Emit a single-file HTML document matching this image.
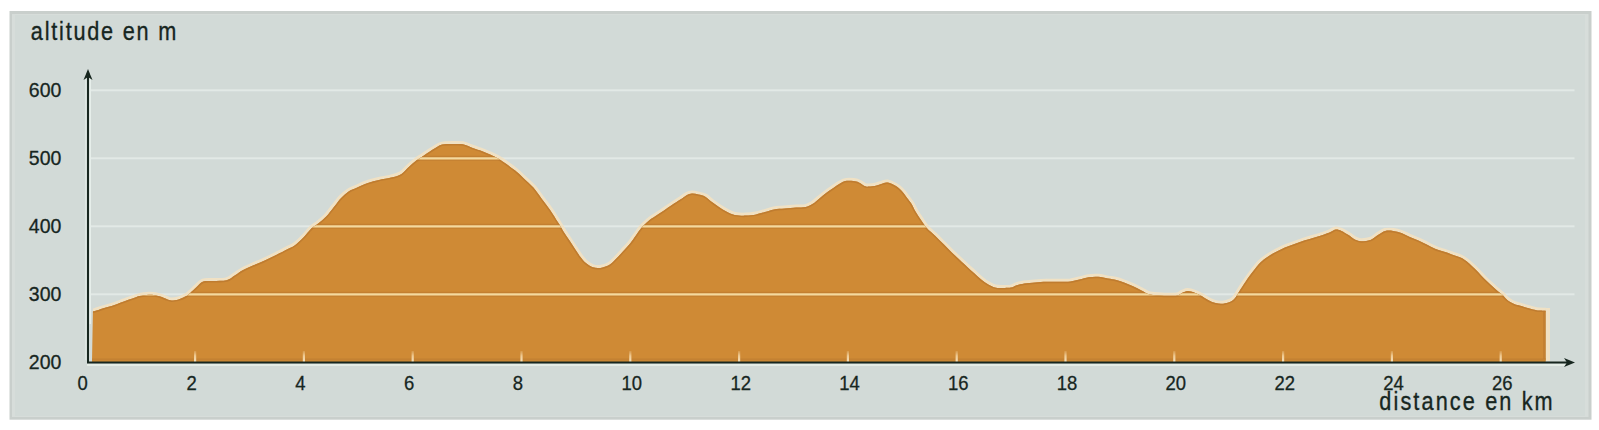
<!DOCTYPE html>
<html><head><meta charset="utf-8"><style>
html,body{margin:0;padding:0;background:#fff;width:1599px;height:430px;overflow:hidden}
svg{display:block}
text{font-family:"Liberation Sans",sans-serif;fill:#17261F}
</style></head><body>
<svg width="1599" height="430" viewBox="0 0 1599 430">
<defs><linearGradient id="tg" x1="0" y1="0" x2="0" y2="1"><stop offset="0" stop-color="#F3D3A0" stop-opacity="0.2"/><stop offset="0.45" stop-color="#F3D3A0" stop-opacity="0.9"/><stop offset="1" stop-color="#F6E2BC"/></linearGradient><clipPath id="ca"><path d="M92.9,311.4 C93.2,311.4 93.1,311.6 94.9,311.1 C96.6,310.6 100.0,309.4 103.3,308.3 C106.5,307.3 110.7,306.2 114.5,305.0 C118.2,303.7 122.3,302.0 125.8,300.8 C129.2,299.5 132.8,298.3 135.1,297.5 C137.4,296.7 138.1,296.5 139.6,296.1 C141.1,295.8 142.5,295.5 144.1,295.2 C145.7,295.0 147.2,294.8 149.0,294.8 C150.8,294.8 153.0,294.9 155.0,295.2 C157.0,295.5 159.0,296.1 161.0,296.8 C163.0,297.5 165.2,298.6 167.0,299.2 C168.8,299.8 169.6,300.4 171.5,300.4 C173.4,300.4 176.3,300.1 178.6,299.4 C180.9,298.8 183.4,297.7 185.3,296.6 C187.2,295.5 188.5,294.5 190.3,292.9 C192.1,291.4 194.2,289.2 196.3,287.3 C198.4,285.4 200.4,282.7 203.2,281.6 C205.9,280.6 209.1,281.2 213.0,281.0 C216.9,280.8 223.0,281.2 226.6,280.3 C230.2,279.4 232.0,277.3 234.7,275.6 C237.4,273.9 239.9,271.8 243.1,270.1 C246.3,268.4 250.3,266.7 254.0,265.1 C257.6,263.5 261.5,262.0 265.2,260.3 C269.0,258.5 272.9,256.5 276.6,254.7 C280.3,252.9 284.3,250.8 287.3,249.2 C290.3,247.6 291.8,247.4 294.6,245.4 C297.4,243.4 301.1,239.8 303.9,237.0 C306.7,234.2 308.8,230.9 311.3,228.6 C313.8,226.3 316.3,225.0 318.8,223.0 C321.3,221.0 323.7,219.1 326.2,216.5 C328.7,213.9 331.2,210.3 333.7,207.2 C336.2,204.1 338.6,200.5 341.1,197.9 C343.6,195.3 346.0,193.1 348.6,191.4 C351.2,189.7 353.5,189.1 356.7,187.7 C360.0,186.2 364.2,184.2 367.9,182.9 C371.6,181.6 375.2,180.8 379.0,179.9 C382.9,179.0 387.3,178.6 391.1,177.6 C394.8,176.6 398.5,175.8 401.5,173.9 C404.5,172.0 406.8,168.6 409.3,166.4 C411.8,164.2 414.0,162.3 416.3,160.6 C418.6,158.8 420.9,157.5 423.2,155.9 C425.5,154.3 427.9,152.8 430.2,151.3 C432.5,149.8 434.9,148.2 436.9,147.1 C438.9,146.0 439.6,145.1 442.2,144.6 C444.7,144.1 448.9,144.1 452.3,144.1 C455.7,144.1 459.3,143.6 462.8,144.3 C466.3,145.0 470.2,147.1 473.4,148.2 C476.5,149.3 478.9,149.9 481.7,151.0 C484.5,152.1 487.3,153.2 490.1,154.5 C492.9,155.8 495.7,157.1 498.5,158.7 C501.3,160.3 504.0,162.3 506.8,164.3 C509.6,166.3 512.4,168.3 515.2,170.6 C518.0,172.9 520.6,175.4 523.6,178.2 C526.6,181.0 530.4,184.2 533.4,187.6 C536.4,191.0 538.9,195.0 541.7,198.7 C544.5,202.4 547.3,205.9 550.1,209.9 C552.9,213.9 556.0,219.2 558.3,222.8 C560.5,226.4 561.8,228.8 563.6,231.7 C565.4,234.6 567.4,237.3 569.2,240.1 C571.1,242.9 572.9,245.7 574.7,248.5 C576.6,251.3 578.4,254.4 580.3,256.8 C582.2,259.2 583.8,261.4 585.9,263.1 C588.0,264.9 590.5,266.5 592.9,267.3 C595.3,268.1 597.7,268.2 600.4,267.9 C603.1,267.5 606.5,266.6 609.1,265.1 C611.7,263.6 613.8,261.1 616.1,258.8 C618.4,256.5 620.7,253.8 623.1,251.2 C625.5,248.6 628.2,245.9 630.3,243.3 C632.4,240.7 633.9,238.3 635.7,235.8 C637.5,233.3 639.2,230.5 641.3,228.1 C643.4,225.7 645.9,223.2 648.2,221.2 C650.5,219.2 652.6,218.0 655.2,216.3 C657.8,214.5 660.8,212.6 663.6,210.7 C666.4,208.8 669.1,206.9 671.9,205.1 C674.7,203.2 677.8,201.2 680.3,199.6 C682.8,198.0 684.7,196.2 686.6,195.2 C688.6,194.2 690.0,193.7 692.0,193.6 C694.0,193.5 696.2,194.1 698.4,194.6 C700.6,195.1 703.0,195.4 705.3,196.7 C707.6,198.0 710.0,200.6 712.3,202.3 C714.6,204.1 717.0,205.7 719.3,207.2 C721.6,208.7 723.8,210.1 726.3,211.4 C728.8,212.7 731.4,214.2 734.6,214.9 C737.9,215.6 742.2,215.7 745.8,215.6 C749.4,215.5 753.1,215.0 756.2,214.4 C759.4,213.8 761.9,212.9 764.9,212.1 C767.8,211.2 770.7,210.0 774.0,209.4 C777.4,208.8 781.1,208.8 784.8,208.5 C788.5,208.2 792.7,207.7 796.2,207.5 C799.7,207.3 802.9,207.7 805.6,207.1 C808.3,206.5 810.1,205.4 812.4,204.0 C814.7,202.6 817.1,200.3 819.4,198.4 C821.7,196.5 824.1,194.5 826.4,192.8 C828.7,191.0 831.0,189.4 833.3,187.9 C835.6,186.4 838.0,184.8 840.0,183.6 C842.0,182.5 843.0,181.5 845.2,181.1 C847.4,180.6 851.0,180.8 853.3,181.0 C855.6,181.2 857.0,181.6 858.9,182.4 C860.8,183.2 862.9,185.2 864.5,185.9 C866.1,186.6 866.7,186.7 868.7,186.6 C870.7,186.5 874.3,186.0 876.6,185.4 C878.9,184.9 880.8,183.8 882.7,183.4 C884.5,182.9 885.9,182.4 887.6,182.6 C889.3,182.8 891.2,183.7 893.1,184.6 C895.0,185.5 897.1,186.8 898.7,188.1 C900.3,189.4 901.5,190.7 902.9,192.3 C904.3,193.9 905.7,196.0 907.1,197.9 C908.5,199.8 909.9,201.2 911.3,203.5 C912.7,205.8 913.9,208.8 915.5,211.5 C917.1,214.2 919.1,217.2 921.0,220.0 C922.9,222.8 924.4,225.4 926.7,228.0 C929.1,230.6 932.3,233.0 935.1,235.7 C937.9,238.4 940.7,241.3 943.5,244.1 C946.3,246.9 949.0,249.7 951.8,252.4 C954.6,255.1 957.6,257.9 960.1,260.3 C962.6,262.7 964.7,264.6 967.0,266.7 C969.3,268.8 971.7,270.9 974.0,273.0 C976.3,275.1 978.6,277.4 980.9,279.3 C983.2,281.2 985.6,282.9 987.9,284.2 C990.2,285.5 992.6,286.8 994.9,287.4 C997.2,288.0 999.1,287.9 1001.8,287.9 C1004.5,287.9 1008.4,288.0 1010.9,287.6 C1013.4,287.1 1014.6,285.8 1016.8,285.2 C1019.1,284.5 1021.3,284.0 1024.4,283.5 C1027.4,283.1 1031.6,282.7 1035.3,282.4 C1039.0,282.1 1042.4,281.9 1046.5,281.8 C1050.6,281.7 1056.0,281.9 1060.0,281.8 C1064.0,281.7 1067.3,281.8 1070.5,281.5 C1073.7,281.1 1076.4,280.2 1079.5,279.5 C1082.5,278.8 1085.5,277.7 1088.7,277.2 C1091.8,276.8 1095.0,276.6 1098.2,276.8 C1101.4,277.0 1105.0,278.1 1108.0,278.6 C1111.0,279.1 1113.6,279.3 1116.4,280.0 C1119.2,280.7 1121.9,281.8 1124.7,282.8 C1127.5,283.9 1130.3,285.0 1133.1,286.3 C1135.9,287.6 1138.7,289.0 1141.5,290.4 C1144.3,291.8 1146.1,293.6 1149.8,294.5 C1153.5,295.4 1159.4,295.5 1163.9,295.7 C1168.4,295.9 1174.0,296.0 1177.1,295.5 C1180.1,295.1 1180.6,293.6 1182.4,292.8 C1184.2,292.1 1185.7,291.0 1187.7,291.0 C1189.7,291.0 1192.3,291.8 1194.6,292.7 C1196.9,293.6 1199.3,294.8 1201.6,296.1 C1203.9,297.4 1206.3,299.1 1208.6,300.3 C1210.9,301.5 1213.2,302.5 1215.6,303.1 C1218.0,303.7 1220.4,304.0 1223.1,303.7 C1225.8,303.3 1229.6,302.1 1231.8,300.9 C1234.0,299.7 1234.6,298.6 1236.0,296.7 C1237.4,294.9 1238.6,292.4 1240.2,289.8 C1241.8,287.2 1243.5,284.6 1245.7,281.4 C1247.9,278.2 1251.0,274.0 1253.5,270.8 C1256.0,267.6 1258.1,264.7 1260.4,262.4 C1262.7,260.1 1264.8,258.6 1267.4,256.9 C1270.0,255.2 1272.9,253.5 1275.8,252.0 C1278.7,250.5 1281.8,249.0 1284.9,247.6 C1288.0,246.3 1291.3,245.3 1294.5,244.1 C1297.7,242.9 1300.9,241.6 1304.1,240.5 C1307.3,239.5 1310.4,238.7 1313.7,237.7 C1316.9,236.7 1320.6,235.7 1323.4,234.8 C1326.2,233.8 1328.4,232.9 1330.5,232.0 C1332.5,231.1 1334.1,229.7 1335.9,229.5 C1337.7,229.3 1339.4,230.0 1341.5,230.9 C1343.6,231.8 1346.3,233.7 1348.5,235.1 C1350.7,236.5 1352.4,238.2 1354.4,239.2 C1356.5,240.2 1358.1,241.1 1360.8,241.2 C1363.5,241.3 1367.5,241.0 1370.5,239.9 C1373.5,238.8 1376.2,236.1 1378.7,234.6 C1381.2,233.1 1382.8,231.6 1385.2,231.0 C1387.6,230.4 1390.4,230.6 1393.1,230.9 C1395.8,231.2 1398.7,232.0 1401.5,233.0 C1404.3,234.0 1407.0,235.8 1409.8,237.0 C1412.6,238.2 1415.6,239.2 1418.4,240.5 C1421.2,241.8 1423.9,243.2 1426.7,244.6 C1429.5,246.0 1432.3,247.6 1435.1,248.8 C1437.9,250.0 1440.7,250.7 1443.5,251.6 C1446.3,252.5 1449.0,253.4 1451.8,254.4 C1454.6,255.4 1458.0,256.4 1460.5,257.5 C1463.0,258.6 1464.6,259.8 1466.6,261.3 C1468.6,262.8 1470.5,264.7 1472.4,266.5 C1474.4,268.3 1476.3,270.3 1478.3,272.3 C1480.2,274.3 1482.2,276.6 1484.1,278.5 C1486.0,280.4 1487.9,282.2 1489.9,284.0 C1491.9,285.8 1493.9,287.8 1495.9,289.5 C1497.9,291.2 1499.8,292.6 1501.7,294.3 C1503.6,296.0 1505.2,298.3 1507.3,299.9 C1509.4,301.5 1512.0,303.1 1514.3,304.1 C1516.6,305.1 1518.8,305.4 1521.3,306.1 C1523.8,306.8 1527.1,307.8 1529.6,308.5 C1532.1,309.2 1533.8,309.8 1536.5,310.2 C1539.2,310.6 1544.2,310.6 1545.7,310.7 L1545.7,362 L92,362 Z"/></clipPath></defs>
<rect x="9.5" y="11" width="1582" height="408.7" fill="#C9CFCC"/>
<rect x="12" y="14" width="1576.5" height="403" fill="#D7DDDA"/>
<rect x="15" y="15" width="1570" height="401" fill="#D2DAD7"/>
<rect x="91" y="89.3" width="1483.5" height="2" fill="#E2E9E6"/><rect x="91" y="157.3" width="1483.5" height="2" fill="#E2E9E6"/><rect x="91" y="225.3" width="1483.5" height="2" fill="#E2E9E6"/><rect x="91" y="293.3" width="1483.5" height="2" fill="#E2E9E6"/>
<path d="M92.9,311.4 C93.2,311.4 93.1,311.6 94.9,311.1 C96.6,310.6 100.0,309.4 103.3,308.3 C106.5,307.3 110.7,306.2 114.5,305.0 C118.2,303.7 122.3,302.0 125.8,300.8 C129.2,299.5 132.8,298.3 135.1,297.5 C137.4,296.7 138.1,296.5 139.6,296.1 C141.1,295.8 142.5,295.5 144.1,295.2 C145.7,295.0 147.2,294.8 149.0,294.8 C150.8,294.8 153.0,294.9 155.0,295.2 C157.0,295.5 159.0,296.1 161.0,296.8 C163.0,297.5 165.2,298.6 167.0,299.2 C168.8,299.8 169.6,300.4 171.5,300.4 C173.4,300.4 176.3,300.1 178.6,299.4 C180.9,298.8 183.4,297.7 185.3,296.6 C187.2,295.5 188.5,294.5 190.3,292.9 C192.1,291.4 194.2,289.2 196.3,287.3 C198.4,285.4 200.4,282.7 203.2,281.6 C205.9,280.6 209.1,281.2 213.0,281.0 C216.9,280.8 223.0,281.2 226.6,280.3 C230.2,279.4 232.0,277.3 234.7,275.6 C237.4,273.9 239.9,271.8 243.1,270.1 C246.3,268.4 250.3,266.7 254.0,265.1 C257.6,263.5 261.5,262.0 265.2,260.3 C269.0,258.5 272.9,256.5 276.6,254.7 C280.3,252.9 284.3,250.8 287.3,249.2 C290.3,247.6 291.8,247.4 294.6,245.4 C297.4,243.4 301.1,239.8 303.9,237.0 C306.7,234.2 308.8,230.9 311.3,228.6 C313.8,226.3 316.3,225.0 318.8,223.0 C321.3,221.0 323.7,219.1 326.2,216.5 C328.7,213.9 331.2,210.3 333.7,207.2 C336.2,204.1 338.6,200.5 341.1,197.9 C343.6,195.3 346.0,193.1 348.6,191.4 C351.2,189.7 353.5,189.1 356.7,187.7 C360.0,186.2 364.2,184.2 367.9,182.9 C371.6,181.6 375.2,180.8 379.0,179.9 C382.9,179.0 387.3,178.6 391.1,177.6 C394.8,176.6 398.5,175.8 401.5,173.9 C404.5,172.0 406.8,168.6 409.3,166.4 C411.8,164.2 414.0,162.3 416.3,160.6 C418.6,158.8 420.9,157.5 423.2,155.9 C425.5,154.3 427.9,152.8 430.2,151.3 C432.5,149.8 434.9,148.2 436.9,147.1 C438.9,146.0 439.6,145.1 442.2,144.6 C444.7,144.1 448.9,144.1 452.3,144.1 C455.7,144.1 459.3,143.6 462.8,144.3 C466.3,145.0 470.2,147.1 473.4,148.2 C476.5,149.3 478.9,149.9 481.7,151.0 C484.5,152.1 487.3,153.2 490.1,154.5 C492.9,155.8 495.7,157.1 498.5,158.7 C501.3,160.3 504.0,162.3 506.8,164.3 C509.6,166.3 512.4,168.3 515.2,170.6 C518.0,172.9 520.6,175.4 523.6,178.2 C526.6,181.0 530.4,184.2 533.4,187.6 C536.4,191.0 538.9,195.0 541.7,198.7 C544.5,202.4 547.3,205.9 550.1,209.9 C552.9,213.9 556.0,219.2 558.3,222.8 C560.5,226.4 561.8,228.8 563.6,231.7 C565.4,234.6 567.4,237.3 569.2,240.1 C571.1,242.9 572.9,245.7 574.7,248.5 C576.6,251.3 578.4,254.4 580.3,256.8 C582.2,259.2 583.8,261.4 585.9,263.1 C588.0,264.9 590.5,266.5 592.9,267.3 C595.3,268.1 597.7,268.2 600.4,267.9 C603.1,267.5 606.5,266.6 609.1,265.1 C611.7,263.6 613.8,261.1 616.1,258.8 C618.4,256.5 620.7,253.8 623.1,251.2 C625.5,248.6 628.2,245.9 630.3,243.3 C632.4,240.7 633.9,238.3 635.7,235.8 C637.5,233.3 639.2,230.5 641.3,228.1 C643.4,225.7 645.9,223.2 648.2,221.2 C650.5,219.2 652.6,218.0 655.2,216.3 C657.8,214.5 660.8,212.6 663.6,210.7 C666.4,208.8 669.1,206.9 671.9,205.1 C674.7,203.2 677.8,201.2 680.3,199.6 C682.8,198.0 684.7,196.2 686.6,195.2 C688.6,194.2 690.0,193.7 692.0,193.6 C694.0,193.5 696.2,194.1 698.4,194.6 C700.6,195.1 703.0,195.4 705.3,196.7 C707.6,198.0 710.0,200.6 712.3,202.3 C714.6,204.1 717.0,205.7 719.3,207.2 C721.6,208.7 723.8,210.1 726.3,211.4 C728.8,212.7 731.4,214.2 734.6,214.9 C737.9,215.6 742.2,215.7 745.8,215.6 C749.4,215.5 753.1,215.0 756.2,214.4 C759.4,213.8 761.9,212.9 764.9,212.1 C767.8,211.2 770.7,210.0 774.0,209.4 C777.4,208.8 781.1,208.8 784.8,208.5 C788.5,208.2 792.7,207.7 796.2,207.5 C799.7,207.3 802.9,207.7 805.6,207.1 C808.3,206.5 810.1,205.4 812.4,204.0 C814.7,202.6 817.1,200.3 819.4,198.4 C821.7,196.5 824.1,194.5 826.4,192.8 C828.7,191.0 831.0,189.4 833.3,187.9 C835.6,186.4 838.0,184.8 840.0,183.6 C842.0,182.5 843.0,181.5 845.2,181.1 C847.4,180.6 851.0,180.8 853.3,181.0 C855.6,181.2 857.0,181.6 858.9,182.4 C860.8,183.2 862.9,185.2 864.5,185.9 C866.1,186.6 866.7,186.7 868.7,186.6 C870.7,186.5 874.3,186.0 876.6,185.4 C878.9,184.9 880.8,183.8 882.7,183.4 C884.5,182.9 885.9,182.4 887.6,182.6 C889.3,182.8 891.2,183.7 893.1,184.6 C895.0,185.5 897.1,186.8 898.7,188.1 C900.3,189.4 901.5,190.7 902.9,192.3 C904.3,193.9 905.7,196.0 907.1,197.9 C908.5,199.8 909.9,201.2 911.3,203.5 C912.7,205.8 913.9,208.8 915.5,211.5 C917.1,214.2 919.1,217.2 921.0,220.0 C922.9,222.8 924.4,225.4 926.7,228.0 C929.1,230.6 932.3,233.0 935.1,235.7 C937.9,238.4 940.7,241.3 943.5,244.1 C946.3,246.9 949.0,249.7 951.8,252.4 C954.6,255.1 957.6,257.9 960.1,260.3 C962.6,262.7 964.7,264.6 967.0,266.7 C969.3,268.8 971.7,270.9 974.0,273.0 C976.3,275.1 978.6,277.4 980.9,279.3 C983.2,281.2 985.6,282.9 987.9,284.2 C990.2,285.5 992.6,286.8 994.9,287.4 C997.2,288.0 999.1,287.9 1001.8,287.9 C1004.5,287.9 1008.4,288.0 1010.9,287.6 C1013.4,287.1 1014.6,285.8 1016.8,285.2 C1019.1,284.5 1021.3,284.0 1024.4,283.5 C1027.4,283.1 1031.6,282.7 1035.3,282.4 C1039.0,282.1 1042.4,281.9 1046.5,281.8 C1050.6,281.7 1056.0,281.9 1060.0,281.8 C1064.0,281.7 1067.3,281.8 1070.5,281.5 C1073.7,281.1 1076.4,280.2 1079.5,279.5 C1082.5,278.8 1085.5,277.7 1088.7,277.2 C1091.8,276.8 1095.0,276.6 1098.2,276.8 C1101.4,277.0 1105.0,278.1 1108.0,278.6 C1111.0,279.1 1113.6,279.3 1116.4,280.0 C1119.2,280.7 1121.9,281.8 1124.7,282.8 C1127.5,283.9 1130.3,285.0 1133.1,286.3 C1135.9,287.6 1138.7,289.0 1141.5,290.4 C1144.3,291.8 1146.1,293.6 1149.8,294.5 C1153.5,295.4 1159.4,295.5 1163.9,295.7 C1168.4,295.9 1174.0,296.0 1177.1,295.5 C1180.1,295.1 1180.6,293.6 1182.4,292.8 C1184.2,292.1 1185.7,291.0 1187.7,291.0 C1189.7,291.0 1192.3,291.8 1194.6,292.7 C1196.9,293.6 1199.3,294.8 1201.6,296.1 C1203.9,297.4 1206.3,299.1 1208.6,300.3 C1210.9,301.5 1213.2,302.5 1215.6,303.1 C1218.0,303.7 1220.4,304.0 1223.1,303.7 C1225.8,303.3 1229.6,302.1 1231.8,300.9 C1234.0,299.7 1234.6,298.6 1236.0,296.7 C1237.4,294.9 1238.6,292.4 1240.2,289.8 C1241.8,287.2 1243.5,284.6 1245.7,281.4 C1247.9,278.2 1251.0,274.0 1253.5,270.8 C1256.0,267.6 1258.1,264.7 1260.4,262.4 C1262.7,260.1 1264.8,258.6 1267.4,256.9 C1270.0,255.2 1272.9,253.5 1275.8,252.0 C1278.7,250.5 1281.8,249.0 1284.9,247.6 C1288.0,246.3 1291.3,245.3 1294.5,244.1 C1297.7,242.9 1300.9,241.6 1304.1,240.5 C1307.3,239.5 1310.4,238.7 1313.7,237.7 C1316.9,236.7 1320.6,235.7 1323.4,234.8 C1326.2,233.8 1328.4,232.9 1330.5,232.0 C1332.5,231.1 1334.1,229.7 1335.9,229.5 C1337.7,229.3 1339.4,230.0 1341.5,230.9 C1343.6,231.8 1346.3,233.7 1348.5,235.1 C1350.7,236.5 1352.4,238.2 1354.4,239.2 C1356.5,240.2 1358.1,241.1 1360.8,241.2 C1363.5,241.3 1367.5,241.0 1370.5,239.9 C1373.5,238.8 1376.2,236.1 1378.7,234.6 C1381.2,233.1 1382.8,231.6 1385.2,231.0 C1387.6,230.4 1390.4,230.6 1393.1,230.9 C1395.8,231.2 1398.7,232.0 1401.5,233.0 C1404.3,234.0 1407.0,235.8 1409.8,237.0 C1412.6,238.2 1415.6,239.2 1418.4,240.5 C1421.2,241.8 1423.9,243.2 1426.7,244.6 C1429.5,246.0 1432.3,247.6 1435.1,248.8 C1437.9,250.0 1440.7,250.7 1443.5,251.6 C1446.3,252.5 1449.0,253.4 1451.8,254.4 C1454.6,255.4 1458.0,256.4 1460.5,257.5 C1463.0,258.6 1464.6,259.8 1466.6,261.3 C1468.6,262.8 1470.5,264.7 1472.4,266.5 C1474.4,268.3 1476.3,270.3 1478.3,272.3 C1480.2,274.3 1482.2,276.6 1484.1,278.5 C1486.0,280.4 1487.9,282.2 1489.9,284.0 C1491.9,285.8 1493.9,287.8 1495.9,289.5 C1497.9,291.2 1499.8,292.6 1501.7,294.3 C1503.6,296.0 1505.2,298.3 1507.3,299.9 C1509.4,301.5 1512.0,303.1 1514.3,304.1 C1516.6,305.1 1518.8,305.4 1521.3,306.1 C1523.8,306.8 1527.1,307.8 1529.6,308.5 C1532.1,309.2 1533.8,309.8 1536.5,310.2 C1539.2,310.6 1544.2,310.6 1545.7,310.7" fill="none" stroke="#F0E1C4" stroke-width="6" stroke-linejoin="round"/>
<rect x="1545.7" y="308" width="4.3" height="53" fill="#F0E1C4"/>
<path d="M92.9,311.4 C93.2,311.4 93.1,311.6 94.9,311.1 C96.6,310.6 100.0,309.4 103.3,308.3 C106.5,307.3 110.7,306.2 114.5,305.0 C118.2,303.7 122.3,302.0 125.8,300.8 C129.2,299.5 132.8,298.3 135.1,297.5 C137.4,296.7 138.1,296.5 139.6,296.1 C141.1,295.8 142.5,295.5 144.1,295.2 C145.7,295.0 147.2,294.8 149.0,294.8 C150.8,294.8 153.0,294.9 155.0,295.2 C157.0,295.5 159.0,296.1 161.0,296.8 C163.0,297.5 165.2,298.6 167.0,299.2 C168.8,299.8 169.6,300.4 171.5,300.4 C173.4,300.4 176.3,300.1 178.6,299.4 C180.9,298.8 183.4,297.7 185.3,296.6 C187.2,295.5 188.5,294.5 190.3,292.9 C192.1,291.4 194.2,289.2 196.3,287.3 C198.4,285.4 200.4,282.7 203.2,281.6 C205.9,280.6 209.1,281.2 213.0,281.0 C216.9,280.8 223.0,281.2 226.6,280.3 C230.2,279.4 232.0,277.3 234.7,275.6 C237.4,273.9 239.9,271.8 243.1,270.1 C246.3,268.4 250.3,266.7 254.0,265.1 C257.6,263.5 261.5,262.0 265.2,260.3 C269.0,258.5 272.9,256.5 276.6,254.7 C280.3,252.9 284.3,250.8 287.3,249.2 C290.3,247.6 291.8,247.4 294.6,245.4 C297.4,243.4 301.1,239.8 303.9,237.0 C306.7,234.2 308.8,230.9 311.3,228.6 C313.8,226.3 316.3,225.0 318.8,223.0 C321.3,221.0 323.7,219.1 326.2,216.5 C328.7,213.9 331.2,210.3 333.7,207.2 C336.2,204.1 338.6,200.5 341.1,197.9 C343.6,195.3 346.0,193.1 348.6,191.4 C351.2,189.7 353.5,189.1 356.7,187.7 C360.0,186.2 364.2,184.2 367.9,182.9 C371.6,181.6 375.2,180.8 379.0,179.9 C382.9,179.0 387.3,178.6 391.1,177.6 C394.8,176.6 398.5,175.8 401.5,173.9 C404.5,172.0 406.8,168.6 409.3,166.4 C411.8,164.2 414.0,162.3 416.3,160.6 C418.6,158.8 420.9,157.5 423.2,155.9 C425.5,154.3 427.9,152.8 430.2,151.3 C432.5,149.8 434.9,148.2 436.9,147.1 C438.9,146.0 439.6,145.1 442.2,144.6 C444.7,144.1 448.9,144.1 452.3,144.1 C455.7,144.1 459.3,143.6 462.8,144.3 C466.3,145.0 470.2,147.1 473.4,148.2 C476.5,149.3 478.9,149.9 481.7,151.0 C484.5,152.1 487.3,153.2 490.1,154.5 C492.9,155.8 495.7,157.1 498.5,158.7 C501.3,160.3 504.0,162.3 506.8,164.3 C509.6,166.3 512.4,168.3 515.2,170.6 C518.0,172.9 520.6,175.4 523.6,178.2 C526.6,181.0 530.4,184.2 533.4,187.6 C536.4,191.0 538.9,195.0 541.7,198.7 C544.5,202.4 547.3,205.9 550.1,209.9 C552.9,213.9 556.0,219.2 558.3,222.8 C560.5,226.4 561.8,228.8 563.6,231.7 C565.4,234.6 567.4,237.3 569.2,240.1 C571.1,242.9 572.9,245.7 574.7,248.5 C576.6,251.3 578.4,254.4 580.3,256.8 C582.2,259.2 583.8,261.4 585.9,263.1 C588.0,264.9 590.5,266.5 592.9,267.3 C595.3,268.1 597.7,268.2 600.4,267.9 C603.1,267.5 606.5,266.6 609.1,265.1 C611.7,263.6 613.8,261.1 616.1,258.8 C618.4,256.5 620.7,253.8 623.1,251.2 C625.5,248.6 628.2,245.9 630.3,243.3 C632.4,240.7 633.9,238.3 635.7,235.8 C637.5,233.3 639.2,230.5 641.3,228.1 C643.4,225.7 645.9,223.2 648.2,221.2 C650.5,219.2 652.6,218.0 655.2,216.3 C657.8,214.5 660.8,212.6 663.6,210.7 C666.4,208.8 669.1,206.9 671.9,205.1 C674.7,203.2 677.8,201.2 680.3,199.6 C682.8,198.0 684.7,196.2 686.6,195.2 C688.6,194.2 690.0,193.7 692.0,193.6 C694.0,193.5 696.2,194.1 698.4,194.6 C700.6,195.1 703.0,195.4 705.3,196.7 C707.6,198.0 710.0,200.6 712.3,202.3 C714.6,204.1 717.0,205.7 719.3,207.2 C721.6,208.7 723.8,210.1 726.3,211.4 C728.8,212.7 731.4,214.2 734.6,214.9 C737.9,215.6 742.2,215.7 745.8,215.6 C749.4,215.5 753.1,215.0 756.2,214.4 C759.4,213.8 761.9,212.9 764.9,212.1 C767.8,211.2 770.7,210.0 774.0,209.4 C777.4,208.8 781.1,208.8 784.8,208.5 C788.5,208.2 792.7,207.7 796.2,207.5 C799.7,207.3 802.9,207.7 805.6,207.1 C808.3,206.5 810.1,205.4 812.4,204.0 C814.7,202.6 817.1,200.3 819.4,198.4 C821.7,196.5 824.1,194.5 826.4,192.8 C828.7,191.0 831.0,189.4 833.3,187.9 C835.6,186.4 838.0,184.8 840.0,183.6 C842.0,182.5 843.0,181.5 845.2,181.1 C847.4,180.6 851.0,180.8 853.3,181.0 C855.6,181.2 857.0,181.6 858.9,182.4 C860.8,183.2 862.9,185.2 864.5,185.9 C866.1,186.6 866.7,186.7 868.7,186.6 C870.7,186.5 874.3,186.0 876.6,185.4 C878.9,184.9 880.8,183.8 882.7,183.4 C884.5,182.9 885.9,182.4 887.6,182.6 C889.3,182.8 891.2,183.7 893.1,184.6 C895.0,185.5 897.1,186.8 898.7,188.1 C900.3,189.4 901.5,190.7 902.9,192.3 C904.3,193.9 905.7,196.0 907.1,197.9 C908.5,199.8 909.9,201.2 911.3,203.5 C912.7,205.8 913.9,208.8 915.5,211.5 C917.1,214.2 919.1,217.2 921.0,220.0 C922.9,222.8 924.4,225.4 926.7,228.0 C929.1,230.6 932.3,233.0 935.1,235.7 C937.9,238.4 940.7,241.3 943.5,244.1 C946.3,246.9 949.0,249.7 951.8,252.4 C954.6,255.1 957.6,257.9 960.1,260.3 C962.6,262.7 964.7,264.6 967.0,266.7 C969.3,268.8 971.7,270.9 974.0,273.0 C976.3,275.1 978.6,277.4 980.9,279.3 C983.2,281.2 985.6,282.9 987.9,284.2 C990.2,285.5 992.6,286.8 994.9,287.4 C997.2,288.0 999.1,287.9 1001.8,287.9 C1004.5,287.9 1008.4,288.0 1010.9,287.6 C1013.4,287.1 1014.6,285.8 1016.8,285.2 C1019.1,284.5 1021.3,284.0 1024.4,283.5 C1027.4,283.1 1031.6,282.7 1035.3,282.4 C1039.0,282.1 1042.4,281.9 1046.5,281.8 C1050.6,281.7 1056.0,281.9 1060.0,281.8 C1064.0,281.7 1067.3,281.8 1070.5,281.5 C1073.7,281.1 1076.4,280.2 1079.5,279.5 C1082.5,278.8 1085.5,277.7 1088.7,277.2 C1091.8,276.8 1095.0,276.6 1098.2,276.8 C1101.4,277.0 1105.0,278.1 1108.0,278.6 C1111.0,279.1 1113.6,279.3 1116.4,280.0 C1119.2,280.7 1121.9,281.8 1124.7,282.8 C1127.5,283.9 1130.3,285.0 1133.1,286.3 C1135.9,287.6 1138.7,289.0 1141.5,290.4 C1144.3,291.8 1146.1,293.6 1149.8,294.5 C1153.5,295.4 1159.4,295.5 1163.9,295.7 C1168.4,295.9 1174.0,296.0 1177.1,295.5 C1180.1,295.1 1180.6,293.6 1182.4,292.8 C1184.2,292.1 1185.7,291.0 1187.7,291.0 C1189.7,291.0 1192.3,291.8 1194.6,292.7 C1196.9,293.6 1199.3,294.8 1201.6,296.1 C1203.9,297.4 1206.3,299.1 1208.6,300.3 C1210.9,301.5 1213.2,302.5 1215.6,303.1 C1218.0,303.7 1220.4,304.0 1223.1,303.7 C1225.8,303.3 1229.6,302.1 1231.8,300.9 C1234.0,299.7 1234.6,298.6 1236.0,296.7 C1237.4,294.9 1238.6,292.4 1240.2,289.8 C1241.8,287.2 1243.5,284.6 1245.7,281.4 C1247.9,278.2 1251.0,274.0 1253.5,270.8 C1256.0,267.6 1258.1,264.7 1260.4,262.4 C1262.7,260.1 1264.8,258.6 1267.4,256.9 C1270.0,255.2 1272.9,253.5 1275.8,252.0 C1278.7,250.5 1281.8,249.0 1284.9,247.6 C1288.0,246.3 1291.3,245.3 1294.5,244.1 C1297.7,242.9 1300.9,241.6 1304.1,240.5 C1307.3,239.5 1310.4,238.7 1313.7,237.7 C1316.9,236.7 1320.6,235.7 1323.4,234.8 C1326.2,233.8 1328.4,232.9 1330.5,232.0 C1332.5,231.1 1334.1,229.7 1335.9,229.5 C1337.7,229.3 1339.4,230.0 1341.5,230.9 C1343.6,231.8 1346.3,233.7 1348.5,235.1 C1350.7,236.5 1352.4,238.2 1354.4,239.2 C1356.5,240.2 1358.1,241.1 1360.8,241.2 C1363.5,241.3 1367.5,241.0 1370.5,239.9 C1373.5,238.8 1376.2,236.1 1378.7,234.6 C1381.2,233.1 1382.8,231.6 1385.2,231.0 C1387.6,230.4 1390.4,230.6 1393.1,230.9 C1395.8,231.2 1398.7,232.0 1401.5,233.0 C1404.3,234.0 1407.0,235.8 1409.8,237.0 C1412.6,238.2 1415.6,239.2 1418.4,240.5 C1421.2,241.8 1423.9,243.2 1426.7,244.6 C1429.5,246.0 1432.3,247.6 1435.1,248.8 C1437.9,250.0 1440.7,250.7 1443.5,251.6 C1446.3,252.5 1449.0,253.4 1451.8,254.4 C1454.6,255.4 1458.0,256.4 1460.5,257.5 C1463.0,258.6 1464.6,259.8 1466.6,261.3 C1468.6,262.8 1470.5,264.7 1472.4,266.5 C1474.4,268.3 1476.3,270.3 1478.3,272.3 C1480.2,274.3 1482.2,276.6 1484.1,278.5 C1486.0,280.4 1487.9,282.2 1489.9,284.0 C1491.9,285.8 1493.9,287.8 1495.9,289.5 C1497.9,291.2 1499.8,292.6 1501.7,294.3 C1503.6,296.0 1505.2,298.3 1507.3,299.9 C1509.4,301.5 1512.0,303.1 1514.3,304.1 C1516.6,305.1 1518.8,305.4 1521.3,306.1 C1523.8,306.8 1527.1,307.8 1529.6,308.5 C1532.1,309.2 1533.8,309.8 1536.5,310.2 C1539.2,310.6 1544.2,310.6 1545.7,310.7 L1545.7,362 L92,362 Z" fill="#CF8A35"/>
<g clip-path="url(#ca)"><path d="M92.9,311.4 C93.2,311.4 93.1,311.6 94.9,311.1 C96.6,310.6 100.0,309.4 103.3,308.3 C106.5,307.3 110.7,306.2 114.5,305.0 C118.2,303.7 122.3,302.0 125.8,300.8 C129.2,299.5 132.8,298.3 135.1,297.5 C137.4,296.7 138.1,296.5 139.6,296.1 C141.1,295.8 142.5,295.5 144.1,295.2 C145.7,295.0 147.2,294.8 149.0,294.8 C150.8,294.8 153.0,294.9 155.0,295.2 C157.0,295.5 159.0,296.1 161.0,296.8 C163.0,297.5 165.2,298.6 167.0,299.2 C168.8,299.8 169.6,300.4 171.5,300.4 C173.4,300.4 176.3,300.1 178.6,299.4 C180.9,298.8 183.4,297.7 185.3,296.6 C187.2,295.5 188.5,294.5 190.3,292.9 C192.1,291.4 194.2,289.2 196.3,287.3 C198.4,285.4 200.4,282.7 203.2,281.6 C205.9,280.6 209.1,281.2 213.0,281.0 C216.9,280.8 223.0,281.2 226.6,280.3 C230.2,279.4 232.0,277.3 234.7,275.6 C237.4,273.9 239.9,271.8 243.1,270.1 C246.3,268.4 250.3,266.7 254.0,265.1 C257.6,263.5 261.5,262.0 265.2,260.3 C269.0,258.5 272.9,256.5 276.6,254.7 C280.3,252.9 284.3,250.8 287.3,249.2 C290.3,247.6 291.8,247.4 294.6,245.4 C297.4,243.4 301.1,239.8 303.9,237.0 C306.7,234.2 308.8,230.9 311.3,228.6 C313.8,226.3 316.3,225.0 318.8,223.0 C321.3,221.0 323.7,219.1 326.2,216.5 C328.7,213.9 331.2,210.3 333.7,207.2 C336.2,204.1 338.6,200.5 341.1,197.9 C343.6,195.3 346.0,193.1 348.6,191.4 C351.2,189.7 353.5,189.1 356.7,187.7 C360.0,186.2 364.2,184.2 367.9,182.9 C371.6,181.6 375.2,180.8 379.0,179.9 C382.9,179.0 387.3,178.6 391.1,177.6 C394.8,176.6 398.5,175.8 401.5,173.9 C404.5,172.0 406.8,168.6 409.3,166.4 C411.8,164.2 414.0,162.3 416.3,160.6 C418.6,158.8 420.9,157.5 423.2,155.9 C425.5,154.3 427.9,152.8 430.2,151.3 C432.5,149.8 434.9,148.2 436.9,147.1 C438.9,146.0 439.6,145.1 442.2,144.6 C444.7,144.1 448.9,144.1 452.3,144.1 C455.7,144.1 459.3,143.6 462.8,144.3 C466.3,145.0 470.2,147.1 473.4,148.2 C476.5,149.3 478.9,149.9 481.7,151.0 C484.5,152.1 487.3,153.2 490.1,154.5 C492.9,155.8 495.7,157.1 498.5,158.7 C501.3,160.3 504.0,162.3 506.8,164.3 C509.6,166.3 512.4,168.3 515.2,170.6 C518.0,172.9 520.6,175.4 523.6,178.2 C526.6,181.0 530.4,184.2 533.4,187.6 C536.4,191.0 538.9,195.0 541.7,198.7 C544.5,202.4 547.3,205.9 550.1,209.9 C552.9,213.9 556.0,219.2 558.3,222.8 C560.5,226.4 561.8,228.8 563.6,231.7 C565.4,234.6 567.4,237.3 569.2,240.1 C571.1,242.9 572.9,245.7 574.7,248.5 C576.6,251.3 578.4,254.4 580.3,256.8 C582.2,259.2 583.8,261.4 585.9,263.1 C588.0,264.9 590.5,266.5 592.9,267.3 C595.3,268.1 597.7,268.2 600.4,267.9 C603.1,267.5 606.5,266.6 609.1,265.1 C611.7,263.6 613.8,261.1 616.1,258.8 C618.4,256.5 620.7,253.8 623.1,251.2 C625.5,248.6 628.2,245.9 630.3,243.3 C632.4,240.7 633.9,238.3 635.7,235.8 C637.5,233.3 639.2,230.5 641.3,228.1 C643.4,225.7 645.9,223.2 648.2,221.2 C650.5,219.2 652.6,218.0 655.2,216.3 C657.8,214.5 660.8,212.6 663.6,210.7 C666.4,208.8 669.1,206.9 671.9,205.1 C674.7,203.2 677.8,201.2 680.3,199.6 C682.8,198.0 684.7,196.2 686.6,195.2 C688.6,194.2 690.0,193.7 692.0,193.6 C694.0,193.5 696.2,194.1 698.4,194.6 C700.6,195.1 703.0,195.4 705.3,196.7 C707.6,198.0 710.0,200.6 712.3,202.3 C714.6,204.1 717.0,205.7 719.3,207.2 C721.6,208.7 723.8,210.1 726.3,211.4 C728.8,212.7 731.4,214.2 734.6,214.9 C737.9,215.6 742.2,215.7 745.8,215.6 C749.4,215.5 753.1,215.0 756.2,214.4 C759.4,213.8 761.9,212.9 764.9,212.1 C767.8,211.2 770.7,210.0 774.0,209.4 C777.4,208.8 781.1,208.8 784.8,208.5 C788.5,208.2 792.7,207.7 796.2,207.5 C799.7,207.3 802.9,207.7 805.6,207.1 C808.3,206.5 810.1,205.4 812.4,204.0 C814.7,202.6 817.1,200.3 819.4,198.4 C821.7,196.5 824.1,194.5 826.4,192.8 C828.7,191.0 831.0,189.4 833.3,187.9 C835.6,186.4 838.0,184.8 840.0,183.6 C842.0,182.5 843.0,181.5 845.2,181.1 C847.4,180.6 851.0,180.8 853.3,181.0 C855.6,181.2 857.0,181.6 858.9,182.4 C860.8,183.2 862.9,185.2 864.5,185.9 C866.1,186.6 866.7,186.7 868.7,186.6 C870.7,186.5 874.3,186.0 876.6,185.4 C878.9,184.9 880.8,183.8 882.7,183.4 C884.5,182.9 885.9,182.4 887.6,182.6 C889.3,182.8 891.2,183.7 893.1,184.6 C895.0,185.5 897.1,186.8 898.7,188.1 C900.3,189.4 901.5,190.7 902.9,192.3 C904.3,193.9 905.7,196.0 907.1,197.9 C908.5,199.8 909.9,201.2 911.3,203.5 C912.7,205.8 913.9,208.8 915.5,211.5 C917.1,214.2 919.1,217.2 921.0,220.0 C922.9,222.8 924.4,225.4 926.7,228.0 C929.1,230.6 932.3,233.0 935.1,235.7 C937.9,238.4 940.7,241.3 943.5,244.1 C946.3,246.9 949.0,249.7 951.8,252.4 C954.6,255.1 957.6,257.9 960.1,260.3 C962.6,262.7 964.7,264.6 967.0,266.7 C969.3,268.8 971.7,270.9 974.0,273.0 C976.3,275.1 978.6,277.4 980.9,279.3 C983.2,281.2 985.6,282.9 987.9,284.2 C990.2,285.5 992.6,286.8 994.9,287.4 C997.2,288.0 999.1,287.9 1001.8,287.9 C1004.5,287.9 1008.4,288.0 1010.9,287.6 C1013.4,287.1 1014.6,285.8 1016.8,285.2 C1019.1,284.5 1021.3,284.0 1024.4,283.5 C1027.4,283.1 1031.6,282.7 1035.3,282.4 C1039.0,282.1 1042.4,281.9 1046.5,281.8 C1050.6,281.7 1056.0,281.9 1060.0,281.8 C1064.0,281.7 1067.3,281.8 1070.5,281.5 C1073.7,281.1 1076.4,280.2 1079.5,279.5 C1082.5,278.8 1085.5,277.7 1088.7,277.2 C1091.8,276.8 1095.0,276.6 1098.2,276.8 C1101.4,277.0 1105.0,278.1 1108.0,278.6 C1111.0,279.1 1113.6,279.3 1116.4,280.0 C1119.2,280.7 1121.9,281.8 1124.7,282.8 C1127.5,283.9 1130.3,285.0 1133.1,286.3 C1135.9,287.6 1138.7,289.0 1141.5,290.4 C1144.3,291.8 1146.1,293.6 1149.8,294.5 C1153.5,295.4 1159.4,295.5 1163.9,295.7 C1168.4,295.9 1174.0,296.0 1177.1,295.5 C1180.1,295.1 1180.6,293.6 1182.4,292.8 C1184.2,292.1 1185.7,291.0 1187.7,291.0 C1189.7,291.0 1192.3,291.8 1194.6,292.7 C1196.9,293.6 1199.3,294.8 1201.6,296.1 C1203.9,297.4 1206.3,299.1 1208.6,300.3 C1210.9,301.5 1213.2,302.5 1215.6,303.1 C1218.0,303.7 1220.4,304.0 1223.1,303.7 C1225.8,303.3 1229.6,302.1 1231.8,300.9 C1234.0,299.7 1234.6,298.6 1236.0,296.7 C1237.4,294.9 1238.6,292.4 1240.2,289.8 C1241.8,287.2 1243.5,284.6 1245.7,281.4 C1247.9,278.2 1251.0,274.0 1253.5,270.8 C1256.0,267.6 1258.1,264.7 1260.4,262.4 C1262.7,260.1 1264.8,258.6 1267.4,256.9 C1270.0,255.2 1272.9,253.5 1275.8,252.0 C1278.7,250.5 1281.8,249.0 1284.9,247.6 C1288.0,246.3 1291.3,245.3 1294.5,244.1 C1297.7,242.9 1300.9,241.6 1304.1,240.5 C1307.3,239.5 1310.4,238.7 1313.7,237.7 C1316.9,236.7 1320.6,235.7 1323.4,234.8 C1326.2,233.8 1328.4,232.9 1330.5,232.0 C1332.5,231.1 1334.1,229.7 1335.9,229.5 C1337.7,229.3 1339.4,230.0 1341.5,230.9 C1343.6,231.8 1346.3,233.7 1348.5,235.1 C1350.7,236.5 1352.4,238.2 1354.4,239.2 C1356.5,240.2 1358.1,241.1 1360.8,241.2 C1363.5,241.3 1367.5,241.0 1370.5,239.9 C1373.5,238.8 1376.2,236.1 1378.7,234.6 C1381.2,233.1 1382.8,231.6 1385.2,231.0 C1387.6,230.4 1390.4,230.6 1393.1,230.9 C1395.8,231.2 1398.7,232.0 1401.5,233.0 C1404.3,234.0 1407.0,235.8 1409.8,237.0 C1412.6,238.2 1415.6,239.2 1418.4,240.5 C1421.2,241.8 1423.9,243.2 1426.7,244.6 C1429.5,246.0 1432.3,247.6 1435.1,248.8 C1437.9,250.0 1440.7,250.7 1443.5,251.6 C1446.3,252.5 1449.0,253.4 1451.8,254.4 C1454.6,255.4 1458.0,256.4 1460.5,257.5 C1463.0,258.6 1464.6,259.8 1466.6,261.3 C1468.6,262.8 1470.5,264.7 1472.4,266.5 C1474.4,268.3 1476.3,270.3 1478.3,272.3 C1480.2,274.3 1482.2,276.6 1484.1,278.5 C1486.0,280.4 1487.9,282.2 1489.9,284.0 C1491.9,285.8 1493.9,287.8 1495.9,289.5 C1497.9,291.2 1499.8,292.6 1501.7,294.3 C1503.6,296.0 1505.2,298.3 1507.3,299.9 C1509.4,301.5 1512.0,303.1 1514.3,304.1 C1516.6,305.1 1518.8,305.4 1521.3,306.1 C1523.8,306.8 1527.1,307.8 1529.6,308.5 C1532.1,309.2 1533.8,309.8 1536.5,310.2 C1539.2,310.6 1544.2,310.6 1545.7,310.7" fill="none" stroke="#BF7C30" stroke-width="3"/><rect x="1543" y="309" width="2.7" height="50" fill="#BF7C30" opacity="0.7"/><rect x="91" y="87.8" width="1455" height="1.2" fill="#BD7B31" opacity="0.7"/><rect x="91" y="91.5" width="1455" height="1.2" fill="#BD7B31" opacity="0.7"/><rect x="91" y="89.3" width="1483.5" height="2.2" fill="#F3D9A0"/><rect x="91" y="155.8" width="1455" height="1.2" fill="#BD7B31" opacity="0.7"/><rect x="91" y="159.5" width="1455" height="1.2" fill="#BD7B31" opacity="0.7"/><rect x="91" y="157.3" width="1483.5" height="2.2" fill="#F3D9A0"/><rect x="91" y="223.8" width="1455" height="1.2" fill="#BD7B31" opacity="0.7"/><rect x="91" y="227.5" width="1455" height="1.2" fill="#BD7B31" opacity="0.7"/><rect x="91" y="225.3" width="1483.5" height="2.2" fill="#F3D9A0"/><rect x="91" y="291.8" width="1455" height="1.2" fill="#BD7B31" opacity="0.7"/><rect x="91" y="295.5" width="1455" height="1.2" fill="#BD7B31" opacity="0.7"/><rect x="91" y="293.3" width="1483.5" height="2.2" fill="#F3D9A0"/></g>
<rect x="89.5" y="74" width="1.5" height="250" fill="#E6EEEA"/><rect x="85" y="74" width="1.3" height="286" fill="#DDE6E2"/>
<rect x="87" y="74" width="2" height="289" fill="#17261F"/>
<polygon points="88,69 83.5,80 88,77 92.5,80" fill="#17261F"/>
<rect x="87" y="364" width="1480" height="2" fill="#E4ECE6"/><rect x="92" y="358.5" width="1454" height="2" fill="#BD7B31" opacity="0.6"/>
<rect x="194.0" y="351" width="2.2" height="11" fill="url(#tg)"/><rect x="302.8" y="351" width="2.2" height="11" fill="url(#tg)"/><rect x="411.6" y="351" width="2.2" height="11" fill="url(#tg)"/><rect x="520.4" y="351" width="2.2" height="11" fill="url(#tg)"/><rect x="629.2" y="351" width="2.2" height="11" fill="url(#tg)"/><rect x="738.0" y="351" width="2.2" height="11" fill="url(#tg)"/><rect x="846.8" y="351" width="2.2" height="11" fill="url(#tg)"/><rect x="955.6" y="351" width="2.2" height="11" fill="url(#tg)"/><rect x="1064.4" y="351" width="2.2" height="11" fill="url(#tg)"/><rect x="1173.2" y="351" width="2.2" height="11" fill="url(#tg)"/><rect x="1282.0" y="351" width="2.2" height="11" fill="url(#tg)"/><rect x="1390.8" y="351" width="2.2" height="11" fill="url(#tg)"/><rect x="1499.6" y="351" width="2.2" height="11" fill="url(#tg)"/>
<rect x="87" y="361.5" width="1483" height="2" fill="#17261F"/>
<polygon points="1575,362.5 1564,358 1567,362.5 1564,367" fill="#17261F"/>
<g font-size="25.5" stroke="#17261F" stroke-width="0.35"><text transform="translate(30.8,40.3) scale(0.85,1)" letter-spacing="2.1">altitude en m</text><text transform="translate(1379.3,410.2) scale(0.85,1)" letter-spacing="2.5">distance en km</text></g>
<g font-size="21" stroke="#17261F" stroke-width="0.3"><text transform="translate(28.8,96.9) scale(0.93,1)">600</text><text transform="translate(28.8,164.9) scale(0.93,1)">500</text><text transform="translate(28.8,232.9) scale(0.93,1)">400</text><text transform="translate(28.8,300.9) scale(0.93,1)">300</text><text transform="translate(28.8,368.9) scale(0.93,1)">200</text><text transform="translate(77.6,390.3) scale(0.88,1)">0</text><text transform="translate(186.4,390.3) scale(0.88,1)">2</text><text transform="translate(295.2,390.3) scale(0.88,1)">4</text><text transform="translate(404.0,390.3) scale(0.88,1)">6</text><text transform="translate(512.8,390.3) scale(0.88,1)">8</text><text transform="translate(621.6,390.3) scale(0.88,1)">10</text><text transform="translate(730.4,390.3) scale(0.88,1)">12</text><text transform="translate(839.2,390.3) scale(0.88,1)">14</text><text transform="translate(948.0,390.3) scale(0.88,1)">16</text><text transform="translate(1056.8,390.3) scale(0.88,1)">18</text><text transform="translate(1165.6,390.3) scale(0.88,1)">20</text><text transform="translate(1274.4,390.3) scale(0.88,1)">22</text><text transform="translate(1383.2,390.3) scale(0.88,1)">24</text><text transform="translate(1492.0,390.3) scale(0.88,1)">26</text></g>
</svg>
</body></html>
